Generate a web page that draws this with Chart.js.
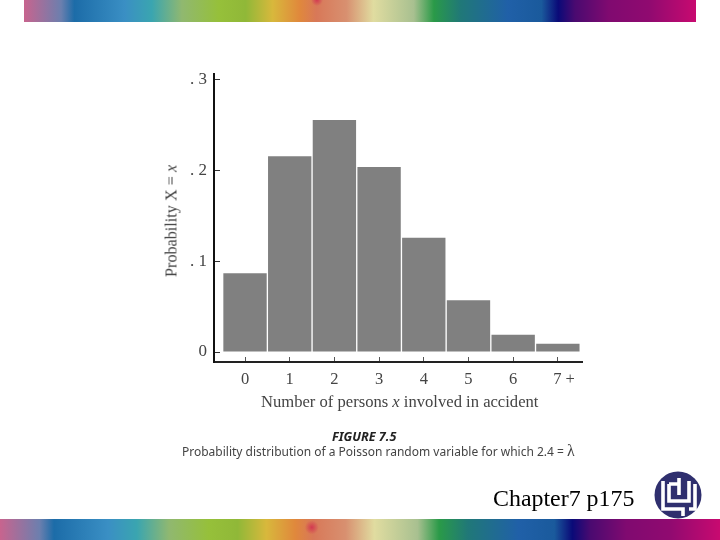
<!DOCTYPE html>
<html>
<head>
<meta charset="utf-8">
<script src="https://cdn.jsdelivr.net/npm/chart.js@4"></script>
<style>
    body { margin: 0; background: #fff; width: 720px; height: 540px; overflow: hidden; position: relative; }
    #chart { position: absolute; left: 0; top: 0; }
    .band { position: absolute; }
    #bandTop { left: 24px; top: 0; width: 672px; height: 22px; }
    #bandBottom { left: 0; top: 519px; width: 720px; height: 21px; }
    .txt { position: absolute; white-space: nowrap; }
    #xTitle { left: 261px; top: 392px; font: 16.6px "Liberation Serif", serif; color: #444; }
    #yTitle { left: 172px; top: 221px; font: 16.2px "Liberation Serif", serif; color: #444;
              transform: translate(-50%, -50%) rotate(-90deg); }
    #figTitle { left: 332px; top: 428px; font: italic bold 12.6px "Noto Sans", sans-serif; color: #222; }
    #figCaption { left: 182px; top: 442px; font: 12px "Noto Sans", sans-serif; color: #444; }
    #pageNote { left: 493px; top: 485px; font: 23.9px "Liberation Serif", serif; color: #000; }
    #logo { position: absolute; left: 654px; top: 471px; }
</style>
</head>
<body>
<canvas id="chart" width="720" height="540"></canvas>
<div class="band" id="bandTop"></div>
<div class="band" id="bandBottom"></div>
<div class="txt" id="yTitle">Probability X = <i>x</i></div>
<div class="txt" id="xTitle">Number of persons <i>x</i> involved in accident</div>
<div class="txt" id="figTitle">FIGURE 7.5</div>
<div class="txt" id="figCaption">Probability distribution of a Poisson random variable for which 2.4 = <span style="font-family:'Liberation Serif',serif;font-size:16px">λ</span></div>
<div class="txt" id="pageNote">Chapter7 p175</div>
<svg id="logo" width="48" height="48" viewBox="0 0 48 48">
    <circle cx="24" cy="24" r="23.5" fill="#2f2f6e"/>
    <path d="M9 10 V38 H29 V45 M15 13 H25 M15 13 V30 H35 V10 M25 7 V24 M41 13 V38 H35" fill="none" stroke="#fff" stroke-width="3.6"/>
</svg>
<script>
const persons = [0, 1, 2, 3, 4, 5, 6, 7];
const probabilities = [0.087, 0.216, 0.256, 0.204, 0.126, 0.057, 0.019, 0.009];
const yTicks = [0, 0.1, 0.2, 0.3];
const yTickLabels = ["0", ". 1", ". 2", ". 3"];
const xTickLabels = ["0", "1", "2", "3", "4", "5", "6", "   7 +"];

const bandStops = [
    ["#c8648e", 0], ["#6c7fae", 5.5], ["#1c6ca8", 7.5], ["#3a8fc4", 15], ["#3aa5b0", 19],
    ["#90b870", 23.5], ["#96c03a", 29], ["#90b838", 33], ["#d8b83c", 37], ["#e0883c", 41],
    ["#d87858", 43.5], ["#d89070", 48], ["#e0dca0", 52], ["#a8c090", 58], ["#2a9a48", 61],
    ["#207878", 65], ["#2060a8", 72], ["#1a5a9c", 77], ["#0a0a78", 79.5], ["#4a0a70", 82],
    ["#800a70", 87], ["#900a70", 93], ["#c80a70", 100]
];
const bandCss = "linear-gradient(90deg," + bandStops.map(s => s[0] + " " + s[1] + "%").join(",") + ")";
document.getElementById("bandTop").style.background =
    "radial-gradient(circle at 43.6% 0, rgba(210,50,80,0.9) 0, rgba(210,50,80,0) 6px)," + bandCss;
document.getElementById("bandBottom").style.background =
    "radial-gradient(circle at 43.3% 40%, rgba(210,50,80,0.9) 0, rgba(210,50,80,0) 7px)," + bandCss;

const ctx = document.getElementById("chart");
new Chart(ctx, {
    type: "bar",
    data: {
        datasets: [{
            data: persons.map((p, i) => ({ x: p, y: probabilities[i] })),
            backgroundColor: "#808080",
            barPercentage: 0.97,
            categoryPercentage: 1
        }]
    },
    options: {
        responsive: false,
        animation: false,
        layout: { padding: { left: 174, right: 138, top: 74, bottom: 138 } },
        plugins: { legend: { display: false }, tooltip: { enabled: false } },
        scales: {
            x: {
                type: "linear",
                offset: false,
                min: -0.694,
                max: 7.54,
                grid: { offset: false, drawOnChartArea: false, tickLength: -5, tickColor: "#555", tickWidth: 1 },
                border: { color: "#222", width: 2 },
                afterBuildTicks: axis => { axis.ticks = persons.map(v => ({ value: v })); },
                afterFit: axis => { axis.height = 40; },
                ticks: {
                    autoSkip: false,
                    maxRotation: 0,
                    padding: 13,
                    color: "#444",
                    font: { family: "Liberation Serif", size: 16.5 },
                    callback: value => xTickLabels[persons.indexOf(value)]
                }
            },
            y: {
                min: -0.011,
                max: 0.3066,
                grid: { drawOnChartArea: false, tickLength: -6, tickColor: "#333", tickWidth: 1 },
                border: { color: "#111", width: 2 },
                afterBuildTicks: axis => { axis.ticks = yTicks.map(v => ({ value: v })); },
                afterFit: axis => { axis.width = 40; },
                ticks: {
                    padding: 13,
                    color: "#444",
                    font: { family: "Liberation Serif", size: 17 },
                    callback: value => yTickLabels[yTicks.indexOf(value)]
                }
            }
        }
    }
});
</script>
</body>
</html>
